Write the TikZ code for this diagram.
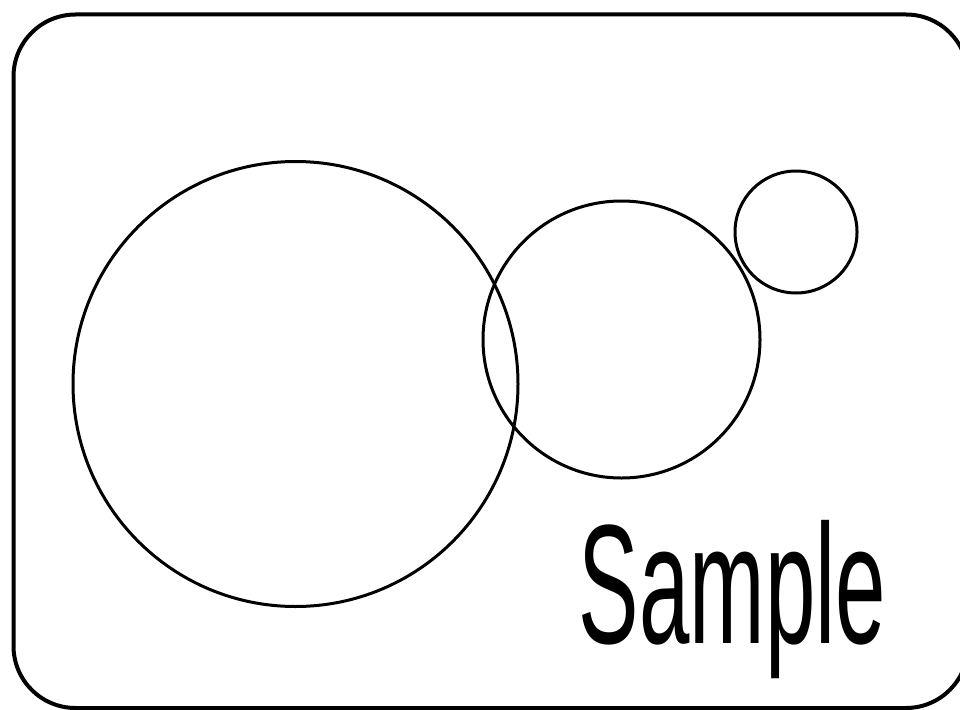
\documentclass[tikz,border=0pt]{standalone}
\usepackage{fontspec}
\setmainfont{Liberation Sans}
\usepackage{tikz}

\begin{document}
\begin{tikzpicture}[
  x=1pt, y=-1pt,
  frame/.style={draw, line width=4pt, rounded corners=62pt},
  ring/.style={draw, circle, line width=3pt, inner sep=0pt},
  word/.style={anchor=base, inner sep=0pt, font=\fontsize{170}{170}\selectfont}
]
\useasboundingbox (0,0) rectangle (960,709);
\begin{scope}
\clip (0,0) rectangle (960,709);
\draw[frame] (13.5,14.5) rectangle (968,708);
\end{scope}
\node[ring, minimum size=445pt] (big)   at (295.5,384) {};
\node[ring, minimum size=277pt] (mid)   at (621.5,339.5) {};
\node[ring, minimum size=122pt] (small) at (796,232) {};
\node[word] (label) at (732.5,643) {\scalebox{0.533}[1]{Sample}};
\end{tikzpicture}
\end{document}
